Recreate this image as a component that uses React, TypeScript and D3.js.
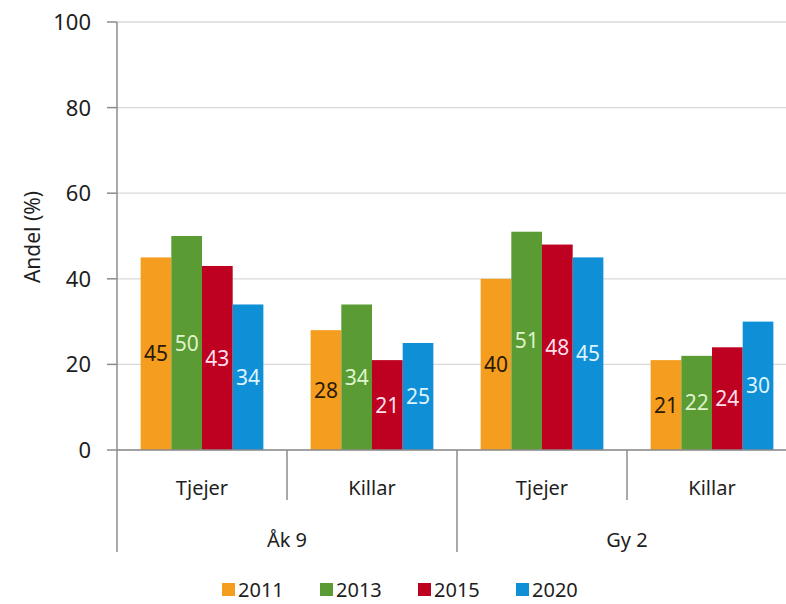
import React from 'react';
import * as d3 from 'd3';

const groups = ['Åk 9', 'Gy 2'];
const genders = ['Tjejer', 'Killar'];
const years = ['2011', '2013', '2015', '2020'];
// one array per group/gender, values in year order
const akTjejer = [45, 50, 43, 34];
const akKillar = [28, 34, 21, 25];
const gyTjejer = [40, 51, 48, 45];
const gyKillar = [21, 22, 24, 30];
const yTicks = [0, 20, 40, 60, 80, 100];

const barColors = ['#f59d1f', '#5a9b34', '#be0021', '#0f8fd6'];
const labelColors = ['#2a1a06', '#dff3cc', '#ffdfe9', '#def3ff'];

const FONT = '"Noto Sans", "Open Sans", sans-serif';
const INK = '#1e1e1e';
const AXIS = '#8c8c8c';

const App: React.FC = () => {
  const width = 786;
  const height = 604;
  const left = 117;
  const right = 797;
  const top = 22;
  const bottom = 450;

  const cells = [
    { group: groups[0], gender: genders[0], values: akTjejer },
    { group: groups[0], gender: genders[1], values: akKillar },
    { group: groups[1], gender: genders[0], values: gyTjejer },
    { group: groups[1], gender: genders[1], values: gyKillar },
  ];
  const keys = cells.map((c) => c.group + '|' + c.gender);

  const x0 = d3.scaleBand<string>().domain(keys).range([left, right]).padding(0);
  const x1 = d3
    .scaleBand<string>()
    .domain(years)
    .range([0, x0.bandwidth()])
    .paddingInner(0)
    .paddingOuter(0.77);
  const y = d3.scaleLinear().domain([0, 100]).range([bottom, top]);
  const gx = d3.scaleBand<string>().domain(groups).range([left, right]).padding(0);

  return (
    <svg
      width={width}
      height={height}
      style={{ position: 'absolute', left: 0, top: 0, background: '#fff' }}
      fontFamily={FONT}
    >
      {/* gridlines */}
      {yTicks.map((t) => (
        <line key={'g' + t} x1={left} x2={right} y1={y(t)} y2={y(t)} stroke="#d9d9d9" strokeWidth={1.3} />
      ))}

      {/* bars + value labels */}
      {cells.map((c, ci) => (
        <g key={keys[ci]} transform={`translate(${x0(keys[ci])},0)`}>
          {c.values.map((v, i) => (
            <rect
              key={years[i]}
              x={x1(years[i])}
              y={y(v)}
              width={x1.bandwidth()}
              height={bottom - y(v)}
              fill={barColors[i]}
            />
          ))}
          {c.values.map((v, i) => (
            <text
              key={'l' + years[i]}
              x={(x1(years[i]) as number) + x1.bandwidth() / 2}
              y={(y(v) + bottom) / 2}
              dy="0.36em"
              textAnchor="middle"
              fontSize={21}
              fill={labelColors[i]}
            >
              {v}
            </text>
          ))}
        </g>
      ))}

      {/* y axis */}
      <line x1={left} x2={left} y1={top} y2={bottom} stroke={AXIS} strokeWidth={1.5} />
      {yTicks.map((t) => (
        <g key={'t' + t}>
          <line x1={left - 10} x2={left} y1={y(t)} y2={y(t)} stroke={AXIS} strokeWidth={1.5} />
          <text x={91} y={y(t)} dy="0.36em" textAnchor="end" fontSize={22} fill={INK}>
            {t}
          </text>
        </g>
      ))}
      <text transform="translate(40,237) rotate(-90)" textAnchor="middle" fontSize={21} fill={INK}>
        Andel (%)
      </text>

      {/* x axis, two levels */}
      <line x1={left} x2={right} y1={bottom} y2={bottom} stroke={AXIS} strokeWidth={1.5} />
      {keys.map((k, i) => (
        <line
          key={'s' + k}
          x1={x0(k)}
          x2={x0(k)}
          y1={bottom}
          y2={i % 2 === 0 ? 552 : 500}
          stroke={AXIS}
          strokeWidth={1.5}
        />
      ))}
      <line x1={right} x2={right} y1={bottom} y2={552} stroke={AXIS} strokeWidth={1.5} />
      {cells.map((c, ci) => (
        <text
          key={'c' + keys[ci]}
          x={(x0(keys[ci]) as number) + x0.bandwidth() / 2}
          y={488}
          dy="0.36em"
          textAnchor="middle"
          fontSize={20}
          fill={INK}
        >
          {c.gender}
        </text>
      ))}
      {groups.map((g) => (
        <text
          key={'gr' + g}
          x={(gx(g) as number) + gx.bandwidth() / 2}
          y={540}
          dy="0.36em"
          textAnchor="middle"
          fontSize={20}
          fill={INK}
        >
          {g}
        </text>
      ))}

      {/* legend */}
      {years.map((yr, i) => (
        <g key={'lg' + yr} transform={`translate(${222 + i * 98},590)`}>
          <rect x={0} y={-7} width={13} height={13} fill={barColors[i]} />
          <text x={16} y={0} dy="0.36em" fontSize={20} fill={INK}>
            {yr}
          </text>
        </g>
      ))}
    </svg>
  );
};

export default App;
